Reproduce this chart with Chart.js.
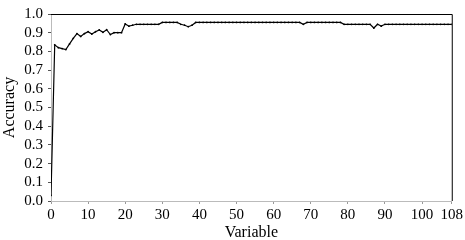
<!DOCTYPE html>
<html>
<head>
<meta charset="utf-8">
<script src="https://cdn.jsdelivr.net/npm/chart.js@4/dist/chart.umd.min.js"></script>
<style>
html,body{margin:0;padding:0;background:#fff;}
#wrap{width:465px;height:240px;position:relative;}
</style>
</head>
<body>
<div id="wrap"><canvas id="c" width="465" height="240"></canvas></div>
<script>
const variables = [0,1,2,3,4,5,6,7,8,9,10,11,12,13,14,15,16,17,18,19,20,21,22,23,24,25,26,27,28,29,30,31,32,33,34,35,36,37,38,39,40,41,42,43,44,45,46,47,48,49,50,51,52,53,54,55,56,57,58,59,60,61,62,63,64,65,66,67,68,69,70,71,72,73,74,75,76,77,78,79,80,81,82,83,84,85,86,87,88,89,90,91,92,93,94,95,96,97,98,99,100,101,102,103,104,105,106,107,108];
const accuracy = [0.03,0.835,0.82,0.815,0.81,0.84,0.87,0.895,0.88,0.895,0.905,0.893,0.905,0.915,0.902,0.916,0.89,0.9,0.9,0.9,
0.947,0.935,0.94,0.945,0.945,0.945,0.945,0.945,0.945,0.945,
0.955,0.955,0.955,0.955,0.955,0.945,0.94,0.932,0.94,0.955,
0.955,0.955,0.955,0.955,0.955,0.955,0.955,0.955,0.955,0.955,
0.955,0.955,0.955,0.955,0.955,0.955,0.955,0.955,0.955,0.955,
0.955,0.955,0.955,0.955,0.955,0.955,0.955,0.955,0.945,0.955,
0.955,0.955,0.955,0.955,0.955,0.955,0.955,0.955,0.955,0.945,
0.945,0.945,0.945,0.945,0.945,0.945,0.945,0.925,0.945,0.935,
0.945,0.945,0.945,0.945,0.945,0.945,0.945,0.945,0.945,0.945,
0.945,0.945,0.945,0.945,0.945,0.945,0.945,0.945,0.945];
const xTicks = [0,10,20,30,40,50,60,70,80,90,100,108];
const yTicks = [0.0,0.1,0.2,0.3,0.4,0.5,0.6,0.7,0.8,0.9,1.0];

const tickFont = {family: "'Liberation Serif', 'DejaVu Serif', serif", size: 15};
const titleFont = {family: "'Liberation Serif', 'DejaVu Serif', serif", size: 16};
const xTitleFont = {family: "'Liberation Serif', 'DejaVu Serif', serif", size: 16, lineHeight: 1};

const frame = {
  id: 'frame',
  afterDatasetsDraw(chart) {
    const {ctx, chartArea: a} = chart;
    ctx.save();
    ctx.strokeStyle = '#000';
    ctx.lineWidth = 1;
    ctx.beginPath();
    ctx.moveTo(a.left, a.top + 0.5);
    ctx.lineTo(a.right + 0.5, a.top + 0.5);
    ctx.lineTo(a.right + 0.5, a.bottom);
    ctx.stroke();
    ctx.restore();
  }
};

new Chart(document.getElementById('c'), {
  type: 'line',
  data: {
    datasets: [{
      data: variables.map((v, i) => ({x: v, y: accuracy[i]})),
      borderColor: '#000',
      backgroundColor: '#000',
      borderWidth: 1.2,
      pointRadius: 0.9,
      pointBorderWidth: 0,
      pointBackgroundColor: '#000',
      tension: 0
    }]
  },
  options: {
    responsive: false,
    animation: false,
    layout: {padding: {top: 7, right: 12, left: 0, bottom: 0}},
    plugins: {legend: {display: false}, tooltip: {enabled: false}},
    scales: {
      x: {
        type: 'linear',
        min: 0, max: 108,
        afterBuildTicks: s => { s.ticks = xTicks.map(v => ({value: v})); },
        afterFit: s => { s.height = 39; },
        ticks: {font: tickFont, color: '#000', padding: 2, maxRotation: 0, autoSkip: false},
        grid: {drawOnChartArea: false, tickLength: 3, color: '#999'},
        border: {color: '#bbb'},
        title: {display: true, text: 'Variable', font: xTitleFont, color: '#000', padding: {top: 0, bottom: -1}}
      },
      y: {
        min: 0, max: 1,
        afterBuildTicks: s => { s.ticks = yTicks.map(v => ({value: v})); },
        afterFit: s => { s.width = 51; },
        ticks: {font: tickFont, color: '#000', padding: 5, autoSkip: false, callback: v => Number(v).toFixed(1)},
        grid: {drawOnChartArea: false, tickLength: 3, color: '#555'},
        border: {color: '#bbb'},
        title: {display: true, text: 'Accuracy', font: titleFont, color: '#000', padding: {top: 0, bottom: 0}}
      }
    }
  },
  plugins: [frame]
});
</script>
</body>
</html>
